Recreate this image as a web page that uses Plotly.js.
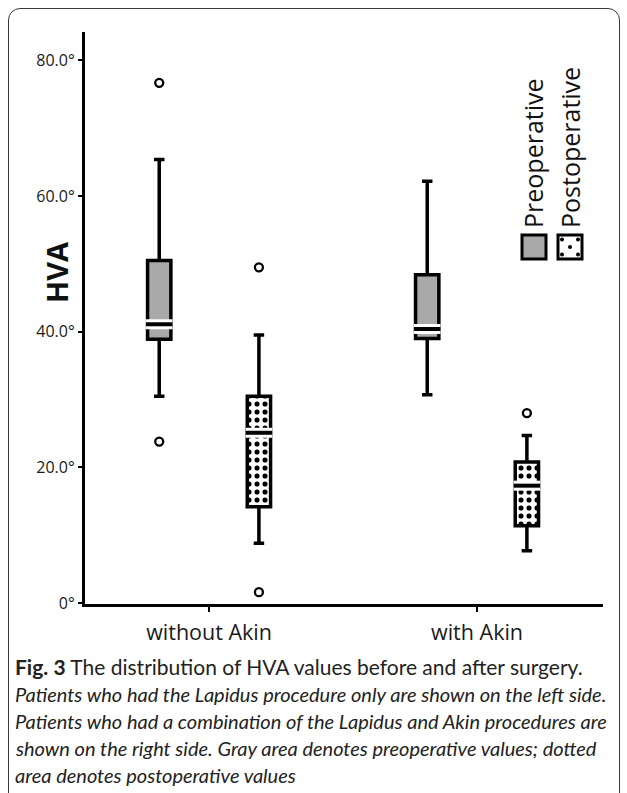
<!DOCTYPE html>
<html>
<head>
<meta charset="utf-8">
<script src="https://cdn.plot.ly/plotly-3.0.1.min.js"></script>
<style>
  html, body { margin: 0; padding: 0; background: #fff; }
  #wrap { position: relative; width: 627px; height: 793px; overflow: hidden; }
  #chart { width: 627px; height: 793px; }
  #frame { position: absolute; left: 8px; top: 8px; width: 610px; height: 820px;
           border: 1.6px solid #3a3a3a; border-radius: 12px; pointer-events: none; }
</style>
</head>
<body>
<div id="wrap"><div id="chart"></div><div id="frame"></div></div>
<script>
// ---- data ----
const categories = ['without Akin', 'with Akin'];
const preQ1      = [38.9, 39.0];
const preMedian  = [41.1, 40.4];
const preQ3      = [50.5, 48.4];
const preLower   = [30.5, 30.7];
const preUpper   = [65.4, 62.2];
const postQ1     = [14.2, 11.4];
const postMedian = [25.1, 17.3];
const postQ3     = [30.5, 20.8];
const postLower  = [8.8, 7.7];
const postUpper  = [39.5, 24.7];
const preOutliers  = [[76.7, 23.8], []];
const postOutliers = [[49.5, 1.6], [28.0]];
const yTickVals  = [0, 20, 40, 60, 80];
const yTickText  = ['0°', '20.0°', '40.0°', '60.0°', '80.0°'];
const legendNames = ['Preoperative', 'Postoperative'];
const captionLines = [
  '<b>Fig. 3</b> The distribution of HVA values before and after surgery.',
  '<i>Patients who had the Lapidus procedure only are shown on the left side.</i>',
  '<i>Patients who had a combination of the Lapidus and Akin procedures are</i>',
  '<i>shown on the right side. Gray area denotes preoperative values; dotted</i>',
  '<i>area denotes postoperative values</i>'
];

// ---- layout geometry ----
const W = 627, H = 793;
const M = {l: 85, r: 24, t: 32, b: 189};
const PW = W - M.l - M.r, PH = H - M.t - M.b;
const px = x => (x - M.l) / PW;           // pixel -> paper
const py = y => (H - M.b - y) / PH;

const offset = 0.186;       // group offset in category units
const boxW = 0.087;         // box width in category units
const idx = categories.map((c, i) => i);
const preX  = idx.map(i => i - offset);
const postX = idx.map(i => i + offset);

const traces = [];
// dotted pattern fill for postoperative boxes (bar layer sits below box layer)
traces.push({
  type: 'bar', x: postX, base: postQ1, y: postQ3.map((v, i) => v - postQ1[i]),
  width: boxW, hoverinfo: 'skip',
  marker: {color: 'white', line: {width: 0},
           pattern: {shape: '.', fgcolor: 'black', bgcolor: 'white', size: 8, solidity: 0.32, fillmode: 'replace'}}
});
traces.push({
  type: 'box', name: legendNames[0], x: preX, q1: preQ1, median: preMedian, q3: preQ3,
  lowerfence: preLower, upperfence: preUpper, width: boxW, boxpoints: false,
  whiskerwidth: 0.45, fillcolor: '#a9a9a9', line: {color: 'black', width: 3.5}
});
traces.push({
  type: 'box', name: legendNames[1], x: postX, q1: postQ1, median: postMedian, q3: postQ3,
  lowerfence: postLower, upperfence: postUpper, width: boxW, boxpoints: false,
  whiskerwidth: 0.45, fillcolor: 'rgba(0,0,0,0)', line: {color: 'black', width: 3.5}
});
// median marks: white gap + black line
function medianSegs(xs, meds) {
  const hw = boxW / 2 + 0.006;
  const X = [], Y = [];
  xs.forEach((x, i) => { X.push(x - hw, x + hw, null); Y.push(meds[i], meds[i], null); });
  return {X, Y};
}
[[preX, preMedian], [postX, postMedian]].forEach(([xs, meds]) => {
  const s = medianSegs(xs, meds);
  traces.push({type: 'scatter', mode: 'lines', x: s.X, y: s.Y, line: {color: 'white', width: 10}, hoverinfo: 'skip'});
  traces.push({type: 'scatter', mode: 'lines', x: s.X, y: s.Y, line: {color: 'black', width: 4}, hoverinfo: 'skip'});
});
// outliers
function outl(xs, outs) {
  const X = [], Y = [];
  outs.forEach((arr, i) => arr.forEach(v => { X.push(xs[i]); Y.push(v); }));
  return {X, Y};
}
[[preX, preOutliers], [postX, postOutliers]].forEach(([xs, outs]) => {
  const o = outl(xs, outs);
  traces.push({type: 'scatter', mode: 'markers', x: o.X, y: o.Y,
    marker: {symbol: 'circle-open', size: 8, color: 'black', line: {width: 2.3, color: 'black'}}});
});

// legend (rotated text + swatches)
const annotations = [];
annotations.push({xref: 'paper', yref: 'paper', x: px(56), y: py(272), text: '<b>HVA</b>', textangle: -90,
  showarrow: false, xanchor: 'center', yanchor: 'middle', font: {family: 'Open Sans', size: 29, color: '#111'}});
const legX = [533, 569.5];
legendNames.forEach((n, i) => {
  annotations.push({xref: 'paper', yref: 'paper', x: px(legX[i]), y: py(230), text: n, textangle: -90,
    showarrow: false, xanchor: 'center', yanchor: 'bottom', font: {family: 'Open Sans', size: 25, color: '#111'}});
});
const capY = [666, 694, 721, 748, 775];
const capSize = [21, 20, 20, 20, 20];
captionLines.forEach((t, i) => {
  annotations.push({xref: 'paper', yref: 'paper', x: px(13), y: py(capY[i]), text: t, showarrow: false,
    xanchor: 'left', yanchor: 'middle', align: 'left', font: {family: 'Lato', size: capSize[i], color: '#222'}});
});

const shapes = [];
shapes.push({type: 'rect', xref: 'paper', yref: 'paper', x0: px(522), x1: px(546), y0: py(259), y1: py(235),
  fillcolor: '#a9a9a9', line: {color: 'black', width: 3}});
shapes.push({type: 'rect', xref: 'paper', yref: 'paper', x0: px(558), x1: px(582), y0: py(259), y1: py(235),
  fillcolor: 'white', line: {color: 'black', width: 3}});
[[562, 239.5], [578, 239.5], [570, 247], [562, 254.5], [578, 254.5]].forEach(([cx, cy]) => {
  shapes.push({type: 'circle', xref: 'paper', yref: 'paper', x0: px(cx - 2), x1: px(cx + 2), y0: py(cy + 2), y1: py(cy - 2),
    fillcolor: 'black', line: {width: 0}});
});

const layout = {
  width: W, height: H, margin: M, paper_bgcolor: 'white', plot_bgcolor: 'white',
  showlegend: false, boxmode: 'overlay', barmode: 'overlay',
  xaxis: {range: [-0.463, 1.470], tickvals: idx, ticktext: categories, showline: true, linecolor: 'black', linewidth: 3,
    ticks: 'outside', ticklen: 5, tickwidth: 1.5, tickcolor: 'black', showgrid: false, zeroline: false,
    ticklabelstandoff: 2, tickfont: {family: 'Open Sans', size: 21.5, color: '#1a1a1a'}, fixedrange: true},
  yaxis: {range: [-0.15, 84.2], tickvals: yTickVals, ticktext: yTickText, showline: true, linecolor: 'black', linewidth: 3,
    ticks: 'outside', ticklen: 4, tickwidth: 2, tickcolor: 'black', showgrid: false, zeroline: false,
    tickfont: {family: 'Open Sans', size: 16, color: '#1a1a1a'}, fixedrange: true},
  annotations, shapes
};
Plotly.newPlot('chart', traces, layout, {displayModeBar: false, staticPlot: true});
</script>
</body>
</html>
